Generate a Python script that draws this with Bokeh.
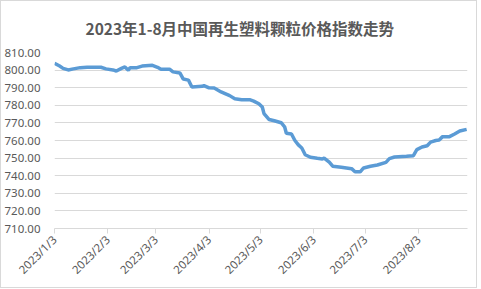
import pandas as pd
from bokeh.plotting import figure
from bokeh.models import FixedTicker, Range1d, NumeralTickFormatter, ColumnDataSource
from bokeh.embed import file_html
from bokeh.resources import INLINE

title_text = "2023年1-8月中国再生塑料颗粒价格指数走势"

dates = ["2023-01-03", "2023-01-06", "2023-01-08", "2023-01-11", "2023-01-14", "2023-01-18",
         "2023-01-22", "2023-01-30", "2023-02-02", "2023-02-06", "2023-02-08", "2023-02-11",
         "2023-02-13", "2023-02-15", "2023-02-16", "2023-02-20", "2023-02-23", "2023-03-01",
         "2023-03-04", "2023-03-06", "2023-03-11", "2023-03-13", "2023-03-17", "2023-03-19",
         "2023-03-22", "2023-03-24", "2023-03-30", "2023-03-31", "2023-04-03", "2023-04-06",
         "2023-04-10", "2023-04-15", "2023-04-18", "2023-04-22", "2023-04-27", "2023-04-29",
         "2023-05-02", "2023-05-04", "2023-05-05", "2023-05-08", "2023-05-11", "2023-05-15",
         "2023-05-17", "2023-05-18", "2023-05-21", "2023-05-23", "2023-05-25", "2023-05-27",
         "2023-05-29", "2023-06-01", "2023-06-05", "2023-06-08", "2023-06-09", "2023-06-12",
         "2023-06-14", "2023-06-19", "2023-06-25", "2023-06-27", "2023-06-30", "2023-07-02",
         "2023-07-06", "2023-07-10", "2023-07-15", "2023-07-17", "2023-07-20", "2023-07-27",
         "2023-07-31", "2023-08-02", "2023-08-05", "2023-08-08", "2023-08-10", "2023-08-13",
         "2023-08-15", "2023-08-17", "2023-08-21", "2023-08-24", "2023-08-27", "2023-08-31"]

values = [803.8, 802.3, 801.0, 800.1, 800.7, 801.4,
          801.6, 801.6, 800.7, 800.1, 799.5, 801.0,
          801.8, 799.9, 801.4, 801.4, 802.3, 802.7,
          801.6, 800.5, 800.5, 799.0, 798.4, 794.9,
          794.3, 790.4, 790.8, 791.2, 789.9, 789.8,
          787.6, 785.5, 783.7, 783.1, 783.1, 782.4,
          780.9, 779.0, 775.3, 771.9, 771.2, 770.1,
          767.8, 764.1, 763.7, 760.0, 757.5, 755.7,
          751.9, 750.5, 749.9, 749.5, 750.0, 747.7,
          745.4, 744.8, 744.0, 742.2, 742.2, 744.4,
          745.4, 746.1, 747.6, 749.7, 750.6, 751.0,
          751.4, 754.8, 756.3, 757.0, 759.1, 760.0,
          760.3, 762.2, 762.2, 763.7, 765.4, 766.3]

tick_dates = ["2023-01-03", "2023-02-03", "2023-03-03", "2023-04-03",
              "2023-05-03", "2023-06-03", "2023-07-03", "2023-08-03"]
tick_labels = ["2023/1/3", "2023/2/3", "2023/3/3", "2023/4/3",
               "2023/5/3", "2023/6/3", "2023/7/3", "2023/8/3"]
y_ticks = [710, 720, 730, 740, 750, 760, 770, 780, 790, 800, 810]

def ms(s):
    return pd.Timestamp(s).value / 1e6

src = ColumnDataSource(dict(x=pd.to_datetime(dates), y=values))

x_start = ms("2023-01-03")
x_end = ms("2023-08-31") + 12 * 3600 * 1000

p = figure(width=477, height=288, x_axis_type="datetime",
           x_range=Range1d(x_start, x_end), y_range=Range1d(710, 810),
           output_backend="svg", toolbar_location=None,
           min_border_left=53, min_border_right=11, min_border_top=48, min_border_bottom=61)

p.styles = {"border": "1px solid #d9d9d9"}

p.title.text = title_text
p.title.align = "left"
p.title.offset = 31
p.title.text_font = "Noto Sans CJK SC"
p.title.text_font_size = "15.5px"
p.title.text_font_style = "bold"
p.title.text_color = "#595959"
p.title.standoff = 27

p.line("x", "y", source=src, line_color="#5B9BD5", line_width=3.5)

p.outline_line_color = None
p.xgrid.grid_line_color = None
p.ygrid.grid_line_color = "#d9d9d9"
p.ygrid.grid_line_width = 1

tick_ms = [ms(d) for d in tick_dates]
p.xaxis.ticker = FixedTicker(ticks=tick_ms)
p.xaxis.major_label_overrides = {t: l for t, l in zip(tick_ms, tick_labels)}
p.xaxis.major_label_orientation = 0.785398
p.xaxis.axis_line_color = "#d9d9d9"
p.xaxis.major_tick_line_color = "#d9d9d9"
p.xaxis.major_tick_out = 5
p.xaxis.major_tick_in = 0
p.xaxis.minor_tick_line_color = None
p.xaxis.major_label_text_font = "Noto Sans"
p.xaxis.major_label_text_font_size = "11.5px"
p.xaxis.major_label_text_color = "#595959"
p.xaxis.major_label_standoff = 4

p.yaxis.ticker = FixedTicker(ticks=y_ticks)
p.yaxis.formatter = NumeralTickFormatter(format="0.00")
p.yaxis.axis_line_color = None
p.yaxis.major_tick_line_color = None
p.yaxis.minor_tick_line_color = None
p.yaxis.major_label_text_font = "Noto Sans"
p.yaxis.major_label_text_font_size = "11.5px"
p.yaxis.major_label_text_color = "#595959"
p.yaxis.major_label_standoff = 8

open("out.html", "w").write(file_html(p, INLINE))
